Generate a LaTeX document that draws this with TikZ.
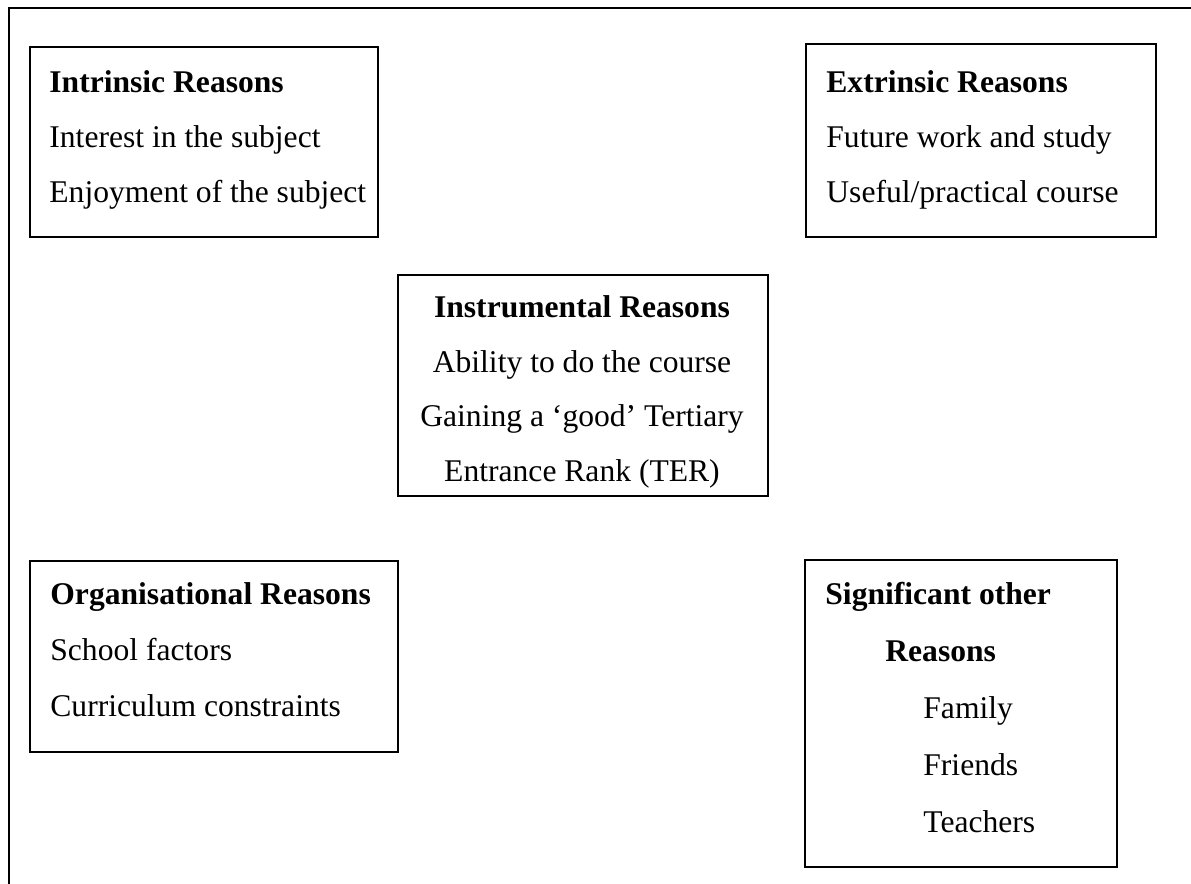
\documentclass[tikz,border=0pt]{standalone}
\usepackage{fontspec}
\setmainfont{Liberation Serif}
\tikzset{
  reasonbox/.style={draw, line width=0.75pt, anchor=north west, inner sep=0pt},
  reasontext/.style={anchor=base west, align=left, inner sep=0pt, font={\fontsize{15.8}{27.5}\selectfont}},
}
\begin{document}
\begin{tikzpicture}[x=0.5pt, y=-0.5pt]
\useasboundingbox (0,0) rectangle (1191,884);
% outer frame, open on the right and at the bottom
\draw[line width=1pt] (1191,8) -- (9,8) -- (9,884);
% boxes
\node[reasonbox, minimum width=174pt, minimum height=95pt] (intr) at (29,46) {};
\node[reasonbox, minimum width=175pt, minimum height=96.5pt] (extr) at (805,43) {};
\node[reasonbox, minimum width=185pt, minimum height=110.5pt] (instr) at (397,274) {};
\node[reasonbox, minimum width=184pt, minimum height=95.5pt] (org) at (29,560) {};
\node[reasonbox, minimum width=156pt, minimum height=153.5pt] (sig) at (804,559) {};
% texts (anchored on the baseline of their last line)
\node[reasontext] (intrtext) at (49,202) {\textbf{Intrinsic Reasons}\\Interest in the subject\\Enjoyment of the subject};
\node[reasontext] (extrtext) at (826,202) {\textbf{Extrinsic Reasons}\\Future work and study\\Useful/practical course};
\node[reasontext, anchor=base, align=center, font={\fontsize{15.8}{27.25}\selectfont}] (instrtext) at (582,481) {\textbf{Instrumental Reasons}\\Ability to do the course\\Gaining a `good' Tertiary\\Entrance Rank (TER)};
\node[reasontext, font={\fontsize{15.8}{28}\selectfont}] (orgtext) at (50,716) {\textbf{Organisational Reasons}\\School factors\\Curriculum constraints};
\node[reasontext, font={\fontsize{15.8}{28.5}\selectfont}] (sigtext) at (825,832) {\textbf{Significant other}\\\hspace*{30pt}\textbf{Reasons}\\\hspace*{49pt}Family\\\hspace*{49pt}Friends\\\hspace*{49pt}Teachers};
\end{tikzpicture}
\end{document}
